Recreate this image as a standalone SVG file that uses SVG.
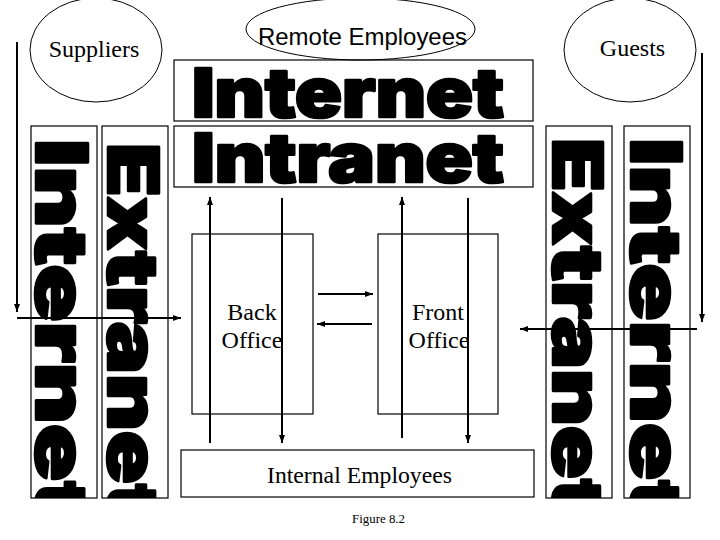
<svg xmlns="http://www.w3.org/2000/svg" width="720" height="540" viewBox="0 0 720 540">
<style>
.box{fill:none;stroke:#000;stroke-width:1.2}
.ell{fill:none;stroke:#000;stroke-width:1}
.serif{font-family:"Liberation Serif","Times New Roman",serif;fill:#000}
.sans{font-family:"Liberation Sans",Arial,sans-serif;fill:#000}
.heavy{font-family:"Arial Black",Inter,Roboto,"DejaVu Sans",sans-serif;font-weight:900;fill:#000;stroke:#000;stroke-width:2.6;stroke-linejoin:round}
.conn{stroke:#000;stroke-width:2;fill:none}
</style>
<defs>
<marker id="ah" viewBox="0 0 8 6" refX="8" refY="3" markerWidth="8" markerHeight="6" orient="auto" markerUnits="userSpaceOnUse"><path d="M0,0 L8,3 L0,6 z" fill="#000"/></marker>
<clipPath id="cL1"><rect x="31" y="126" width="66" height="372"/></clipPath>
<clipPath id="cL2"><rect x="102" y="126" width="66" height="372"/></clipPath>
<clipPath id="cR1"><rect x="546" y="126" width="66" height="372"/></clipPath>
<clipPath id="cR2"><rect x="624" y="126" width="66" height="372"/></clipPath>
</defs>
<rect width="720" height="540" fill="#fff"/>

<g id="suppliers">
<ellipse class="ell" cx="96" cy="50" rx="66" ry="52"/>
<text class="serif" x="94" y="57" font-size="24" text-anchor="middle">Suppliers</text>
</g>
<g id="remote-employees">
<ellipse class="ell" cx="360.5" cy="29" rx="114.5" ry="31"/>
<text class="sans" x="258" y="45" font-size="24" textLength="209" lengthAdjust="spacingAndGlyphs">Remote Employees</text>
</g>
<g id="guests">
<ellipse class="ell" cx="630" cy="50" rx="66" ry="52"/>
<text class="serif" x="632.5" y="56" font-size="24" text-anchor="middle">Guests</text>
</g>

<g id="internet-top">
<rect class="box" x="174" y="60" width="359" height="61"/>
<text class="heavy" x="192" y="117" font-size="68" textLength="312" lengthAdjust="spacingAndGlyphs">Internet</text>
</g>
<g id="intranet">
<rect class="box" x="174" y="126" width="359" height="61"/>
<text class="heavy" x="192" y="182" font-size="68" textLength="312" lengthAdjust="spacingAndGlyphs">Intranet</text>
</g>

<g id="internet-left">
<rect class="box" x="31" y="126" width="66" height="372"/>
<g clip-path="url(#cL1)"><text class="heavy" transform="translate(36,139) rotate(90)" x="0" y="0" font-size="71" textLength="380" lengthAdjust="spacingAndGlyphs">Internet</text></g>
</g>
<g id="extranet-left">
<rect class="box" x="102" y="126" width="66" height="372"/>
<g clip-path="url(#cL2)"><text class="heavy" transform="translate(108,143) rotate(90)" x="0" y="0" font-size="70" textLength="376" lengthAdjust="spacingAndGlyphs">Extranet</text></g>
</g>
<g id="extranet-right">
<rect class="box" x="546" y="126" width="66" height="372"/>
<g clip-path="url(#cR1)"><text class="heavy" transform="translate(553,138) rotate(90)" x="0" y="0" font-size="69" textLength="376" lengthAdjust="spacingAndGlyphs">Extranet</text></g>
</g>
<g id="internet-right">
<rect class="box" x="624" y="126" width="66" height="372"/>
<g clip-path="url(#cR2)"><text class="heavy" transform="translate(631,138) rotate(90)" x="0" y="0" font-size="70" textLength="380" lengthAdjust="spacingAndGlyphs">Internet</text></g>
</g>

<g id="back-office">
<rect class="box" x="192" y="234" width="121" height="180"/>
<text class="serif" font-size="24" text-anchor="middle"><tspan x="252" y="320">Back</tspan><tspan x="252" y="348">Office</tspan></text>
</g>
<g id="front-office">
<rect class="box" x="378" y="234" width="120" height="180"/>
<text class="serif" font-size="24" text-anchor="middle"><tspan x="438" y="320">Front</tspan><tspan x="439" y="348">Office</tspan></text>
</g>
<g id="internal-employees">
<rect class="box" x="181" y="450" width="353" height="47"/>
<text class="serif" x="267" y="483" font-size="24" textLength="185" lengthAdjust="spacingAndGlyphs">Internal Employees</text>
</g>

<g id="connectors">
<line class="conn" x1="17" y1="42" x2="17" y2="312" marker-end="url(#ah)"/>
<line class="conn" x1="702" y1="53" x2="702" y2="322" marker-end="url(#ah)"/>
<line class="conn" x1="17" y1="318" x2="181" y2="318" marker-end="url(#ah)"/>
<line class="conn" x1="697" y1="329" x2="520" y2="329" marker-end="url(#ah)"/>
<line class="conn" x1="210" y1="443" x2="210" y2="197" marker-end="url(#ah)"/>
<line class="conn" x1="282" y1="198" x2="282" y2="443" marker-end="url(#ah)"/>
<line class="conn" x1="402" y1="438" x2="402" y2="197" marker-end="url(#ah)"/>
<line class="conn" x1="468" y1="198" x2="468" y2="443" marker-end="url(#ah)"/>
<line class="conn" x1="318" y1="294" x2="373" y2="294" marker-end="url(#ah)"/>
<line class="conn" x1="372" y1="324" x2="317" y2="324" marker-end="url(#ah)"/>
</g>

<text class="serif" x="352" y="523" font-size="13" textLength="53" lengthAdjust="spacingAndGlyphs">Figure 8.2</text>
</svg>
